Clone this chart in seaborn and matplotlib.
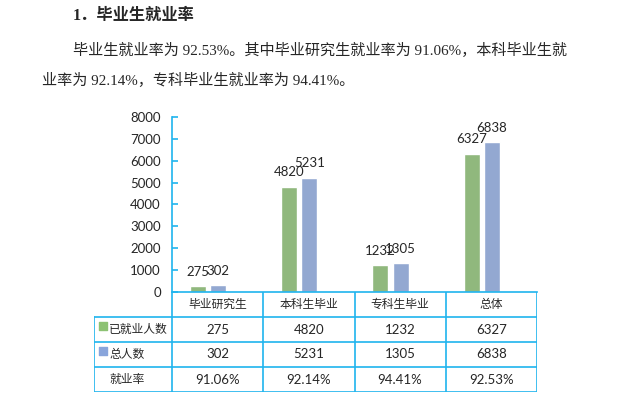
import numpy as np
import pandas as pd
import matplotlib
matplotlib.use("Agg")
import matplotlib.pyplot as plt
import seaborn as sns

# ---------------- data ----------------
categories = ["毕业研究生", "本科生毕业", "专科生毕业", "总体"]
employed = [275, 4820, 1232, 6327]
total = [302, 5231, 1305, 6838]
rate = ["91.06%", "92.14%", "94.41%", "92.53%"]
series_names = ["已就业人数", "总人数"]
yticks = [0, 1000, 2000, 3000, 4000, 5000, 6000, 7000, 8000]

title = "1．毕业生就业率"
para1 = "毕业生就业率为 92.53%。其中毕业研究生就业率为 91.06%，本科毕业生就"
para2 = "业率为 92.14%，专科毕业生就业率为 94.41%。"

GREEN = "#8dc273"
BLUE = "#89a5db"
LINE = "#1fb4ee"

sns.set_theme(style="white")
plt.rcParams["font.family"] = ["Lato", "Noto Sans CJK SC", "DejaVu Sans"]

df = pd.DataFrame({
    "cat": categories * 2,
    "val": employed + total,
    "series": [series_names[0]] * 4 + [series_names[1]] * 4,
})

W, H = 622, 399
fig = plt.figure(figsize=(W / 100, H / 100), dpi=100)

# header text
serif = ["Liberation Serif", "Noto Sans CJK SC"]
fig.text(73 / W, 1 - 16 / H, title, fontsize=11.7, fontweight="bold",
         family=serif, va="center", ha="left")
fig.text(73 / W, 1 - 50 / H, para1, fontsize=10.9, family=serif, va="center", ha="left")
fig.text(42 / W, 1 - 80 / H, para2, fontsize=10.9, family=serif, va="center", ha="left")

# ---------------- bar chart ----------------
ax = fig.add_axes([172 / W, 1 - 292 / H, 365 / W, 175 / H])
sns.barplot(data=df, x="cat", y="val", hue="series", order=categories,
            hue_order=series_names, palette=[GREEN, BLUE], width=0.44,
            gap=0.2, legend=False, ax=ax)
off = 36 / 91.25
ax.set_xlim(-off, 4 - off)
ax.set_ylim(0, 8000)
ax.set_yticks(yticks)
ax.set_xticks([])
ax.set_xlabel("")
ax.set_ylabel("")
for c in ax.containers:
    ax.bar_label(c, padding=6, fontsize=9.5)
for s in ["top", "right"]:
    ax.spines[s].set_visible(False)
for s in ["left", "bottom"]:
    ax.spines[s].set_color(LINE)
    ax.spines[s].set_linewidth(1.2)
ax.tick_params(axis="y", direction="in", length=4, width=1.2, color=LINE,
               labelsize=9.5, pad=8, left=True)

# ---------------- data table ----------------
lab_w = 78 / 91.25
tab = fig.add_axes([94 / W, 1 - 392 / H, 443 / W, 100 / H])
tab.set_xlim(-lab_w, 4)
tab.set_ylim(4, 0)
tab.axis("off")
lw = 1.2
for r in range(1, 5):
    tab.plot([-lab_w, 4], [r, r], color=LINE, lw=lw, solid_capstyle="projecting")
tab.plot([-lab_w, -lab_w], [1, 4], color=LINE, lw=lw)
for cx in range(5):
    tab.plot([cx, cx], [0, 4], color=LINE, lw=lw)

for i, cat in enumerate(categories):
    tab.text(i + 0.5, 0.5, cat, ha="center", va="center", fontsize=8.5)
    tab.text(i + 0.5, 1.5, str(employed[i]), ha="center", va="center", fontsize=9.5)
    tab.text(i + 0.5, 2.5, str(total[i]), ha="center", va="center", fontsize=9.5)
    tab.text(i + 0.5, 3.5, rate[i], ha="center", va="center", fontsize=9.5)

txt_x = -lab_w + 15 / 91.25
tab.text(txt_x, 1.5, series_names[0], ha="left", va="center", fontsize=8.5)
tab.text(txt_x, 2.5, series_names[1], ha="left", va="center", fontsize=8.5)
tab.text(txt_x, 3.5, "就业率", ha="left", va="center", fontsize=8.5)
sq_x = -lab_w + 9 / 91.25
tab.scatter([sq_x], [1.36], marker="s", s=26, color=GREEN, clip_on=False)
tab.scatter([sq_x], [2.36], marker="s", s=26, color=BLUE, clip_on=False)

fig.savefig("out.png", dpi=100)
